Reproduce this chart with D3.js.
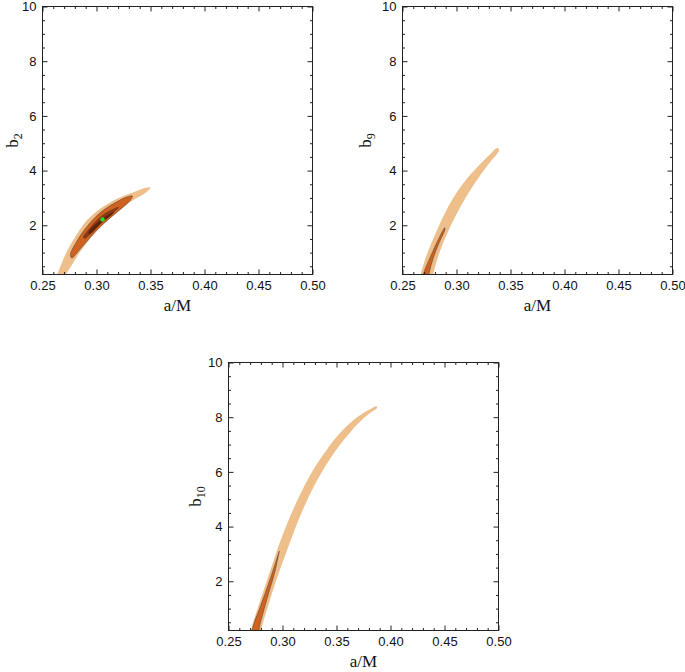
<!DOCTYPE html>
<html>
<head>
<meta charset="utf-8">
<script src="https://cdn.jsdelivr.net/npm/d3@7"></script>
<style>
  body { margin: 0; background: #fff; }
  .tick text { font-family: "Liberation Sans", Arial, sans-serif; font-size: 13px; fill: #111; }
  .tick line { stroke: #222; }
  .axis-title { font-family: "Liberation Serif", "Times New Roman", serif; font-size: 17px; fill: #111; }
</style>
</head>
<body>
<div class="chart"></div>
<script>
//axis ranges and tick values (same for all three panels)
const xDomain = [0.25, 0.50];
const yDomain = [0.2, 10];
const xTicks = [0.25, 0.30, 0.35, 0.40, 0.45, 0.50];
const yTicks = [2, 4, 6, 8, 10];
const xMinor = d3.range(26, 50).map(d => d / 100).filter(d => Math.round(d * 100) % 5 !== 0);
const yMinor = d3.range(1, 20).map(d => d / 2).filter(d => d % 2 !== 0);

//confidence regions, [a/M, b] outlines
//panel b2
const b2Outer = [
  [0.2585, -0.3], [0.2639, 0.22], [0.2710, 0.909], [0.2803, 1.576], [0.2911, 2.18], [0.3034, 2.606],
  [0.3189, 2.97], [0.3343, 3.21], [0.3481, 3.39], [0.3497, 3.37], [0.3451, 3.18], [0.3312, 2.85],
  [0.3189, 2.48], [0.3065, 2.06], [0.2942, 1.52], [0.2849, 1.03], [0.2772, 0.545], [0.2719, 0.22], [0.2634, -0.3]
];
const b2Mid = [
  [0.2758, 0.92], [0.2815, 1.40], [0.2893, 1.86], [0.2988, 2.29], [0.3081, 2.60], [0.3189, 2.86],
  [0.3281, 3.03], [0.3332, 3.07], [0.3314, 2.92], [0.3266, 2.73], [0.3173, 2.42], [0.3081, 2.11],
  [0.2988, 1.75], [0.2895, 1.34], [0.2818, 0.99], [0.2772, 0.80]
];
const b2Inner = [
  [0.2880, 1.57], [0.2940, 1.90], [0.3018, 2.24], [0.3111, 2.50], [0.3204, 2.66],
  [0.3185, 2.57], [0.3111, 2.36], [0.3018, 1.97], [0.2940, 1.67], [0.2890, 1.52]
];
const b2Core = [
  [0.2926, 1.74], [0.3034, 2.18], [0.3165, 2.50],
  [0.3150, 2.41], [0.3034, 2.05], [0.2935, 1.68]
];
const b2Best = [[0.3056, 2.21]];

//panel b9
const b9Outer = [
  [0.2630, -0.3], [0.2667, 0.21], [0.2729, 0.97], [0.2806, 1.70], [0.2882, 2.36], [0.2975, 3.03],
  [0.3083, 3.64], [0.3192, 4.12], [0.3299, 4.55], [0.3377, 4.83], [0.3395, 4.75], [0.3321, 4.36],
  [0.3230, 3.88], [0.3126, 3.27], [0.3036, 2.67], [0.2941, 1.94], [0.2874, 1.33], [0.2820, 0.73],
  [0.2784, 0.21], [0.2765, -0.3]
];
const b9Mid = [
  [0.2665, -0.3], [0.2692, 0.21], [0.2759, 0.85], [0.2836, 1.52], [0.2892, 1.91],
  [0.2892, 1.84], [0.2836, 1.33], [0.2784, 0.79], [0.2744, 0.21], [0.2725, -0.3]
];

//panel b10
const b10Outer = [
  [0.2690, -0.3], [0.2716, 0.316], [0.2792, 1.28], [0.2885, 2.37], [0.2980, 3.47], [0.3078, 4.44],
  [0.3177, 5.28], [0.3284, 6.07], [0.3408, 6.80], [0.3530, 7.41], [0.3669, 7.93], [0.3792, 8.25],
  [0.3869, 8.40], [0.3875, 8.34], [0.3801, 8.13], [0.3699, 7.77], [0.3592, 7.28], [0.3530, 6.98],
  [0.3423, 6.37], [0.3315, 5.65], [0.3223, 4.92], [0.3131, 4.07], [0.3039, 3.10], [0.2950, 2.13],
  [0.2872, 1.16], [0.2810, 0.32], [0.2792, -0.3]
];
const b10Mid = [
  [0.2705, -0.3], [0.2725, 0.32], [0.2792, 1.04], [0.2869, 1.89], [0.2931, 2.62], [0.2971, 3.10],
  [0.2965, 3.01], [0.2931, 2.37], [0.2869, 1.53], [0.2817, 0.80], [0.2786, 0.32], [0.2772, -0.3]
];

//colours of the filled regions
const colOuter = '#eebf8a';
const colMid = '#d0621f';
const colInner = '#8c3a14';
const colCore = '#5e220c';

const panels = [
  {id: 'p1', sub: '2', left: 42.5, top: 6.5, titleX: -25, outer: b2Outer, mid: b2Mid, inner: b2Inner, core: b2Core, best: b2Best},
  {id: 'p2', sub: '9', left: 402.5, top: 6.5, titleX: -32, outer: b9Outer, mid: b9Mid, inner: [], core: [], best: []},
  {id: 'p3', sub: '10', left: 228.5, top: 362.5, titleX: -28, outer: b10Outer, mid: b10Mid, inner: [], core: [], best: []}
];

const width = 270, height = 268;

const svg = d3.select('.chart')
  .append('svg')
  .attr('width', 685)
  .attr('height', 672);

function drawPanel(p) {
  const x = d3.scaleLinear().domain(xDomain).range([0, width]);
  const y = d3.scaleLinear().domain(yDomain).range([height, 0]);

  const g = svg.append('g').attr('transform', `translate(${p.left}, ${p.top})`);

  g.append('clipPath').attr('id', 'clip-' + p.id)
    .append('rect').attr('width', width).attr('height', height);

  const line = d3.line()
    .x(d => x(d[0]))
    .y(d => y(d[1]))
    .curve(d3.curveCatmullRomClosed.alpha(0.5));

  const regions = g.append('g').attr('clip-path', `url(#clip-${p.id})`);

  regions.append('path').attr('d', line(p.outer)).attr('fill', colOuter);
  regions.append('path').attr('d', line(p.mid))
    .attr('fill', colMid)
    .attr('stroke', '#4a4040').attr('stroke-width', 0.8).attr('stroke-opacity', 0.65);
  if (p.inner.length) {
    regions.append('path').attr('d', line(p.inner))
      .attr('fill', colInner)
      .attr('stroke', '#3a3030').attr('stroke-width', 0.7).attr('stroke-opacity', 0.5);
  }
  if (p.core.length) {
    regions.append('path').attr('d', line(p.core)).attr('fill', colCore);
  }

  regions.selectAll('.best')
    .data(p.best)
    .enter()
    .append('circle')
    .attr('class', 'best')
    .attr('cx', d => x(d[0]))
    .attr('cy', d => y(d[1]))
    .attr('r', 2.2)
    .attr('fill', '#1fe01f');

  //frame ticks point inward, like the original
  const fmtX = d3.format('.2f');
  const noLabel = () => '';

  g.append('g').attr('transform', `translate(0, ${height})`)
    .call(d3.axisBottom(x).tickValues(xTicks).tickSize(-5).tickPadding(6).tickFormat(fmtX));
  g.append('g').attr('transform', `translate(0, ${height})`)
    .call(d3.axisBottom(x).tickValues(xMinor).tickSize(-2.5).tickFormat(noLabel));
  g.append('g')
    .call(d3.axisTop(x).tickValues(xTicks).tickSize(-5).tickFormat(noLabel));
  g.append('g')
    .call(d3.axisTop(x).tickValues(xMinor).tickSize(-2.5).tickFormat(noLabel));

  g.append('g')
    .call(d3.axisLeft(y).tickValues(yTicks).tickSize(-5).tickPadding(6).tickFormat(d3.format('d')));
  g.append('g')
    .call(d3.axisLeft(y).tickValues(yMinor).tickSize(-2.5).tickFormat(noLabel));
  g.append('g').attr('transform', `translate(${width}, 0)`)
    .call(d3.axisRight(y).tickValues(yTicks).tickSize(-5).tickFormat(noLabel));
  g.append('g').attr('transform', `translate(${width}, 0)`)
    .call(d3.axisRight(y).tickValues(yMinor).tickSize(-2.5).tickFormat(noLabel));

  g.selectAll('.domain').remove();

  g.append('rect')
    .attr('width', width).attr('height', height)
    .attr('fill', 'none').attr('stroke', '#222').attr('stroke-width', 1);

  //axis titles
  g.append('text')
    .attr('class', 'axis-title')
    .attr('x', width / 2)
    .attr('y', height + 36)
    .attr('text-anchor', 'middle')
    .text('a/M');

  const yt = g.append('text')
    .attr('class', 'axis-title')
    .attr('transform', `translate(${p.titleX}, ${height / 2}) rotate(-90)`)
    .attr('text-anchor', 'middle');
  yt.append('tspan').text('b');
  yt.append('tspan').attr('dy', 4).style('font-size', '12px').text(p.sub);
}

panels.forEach(drawPanel);
</script>
</body>
</html>
